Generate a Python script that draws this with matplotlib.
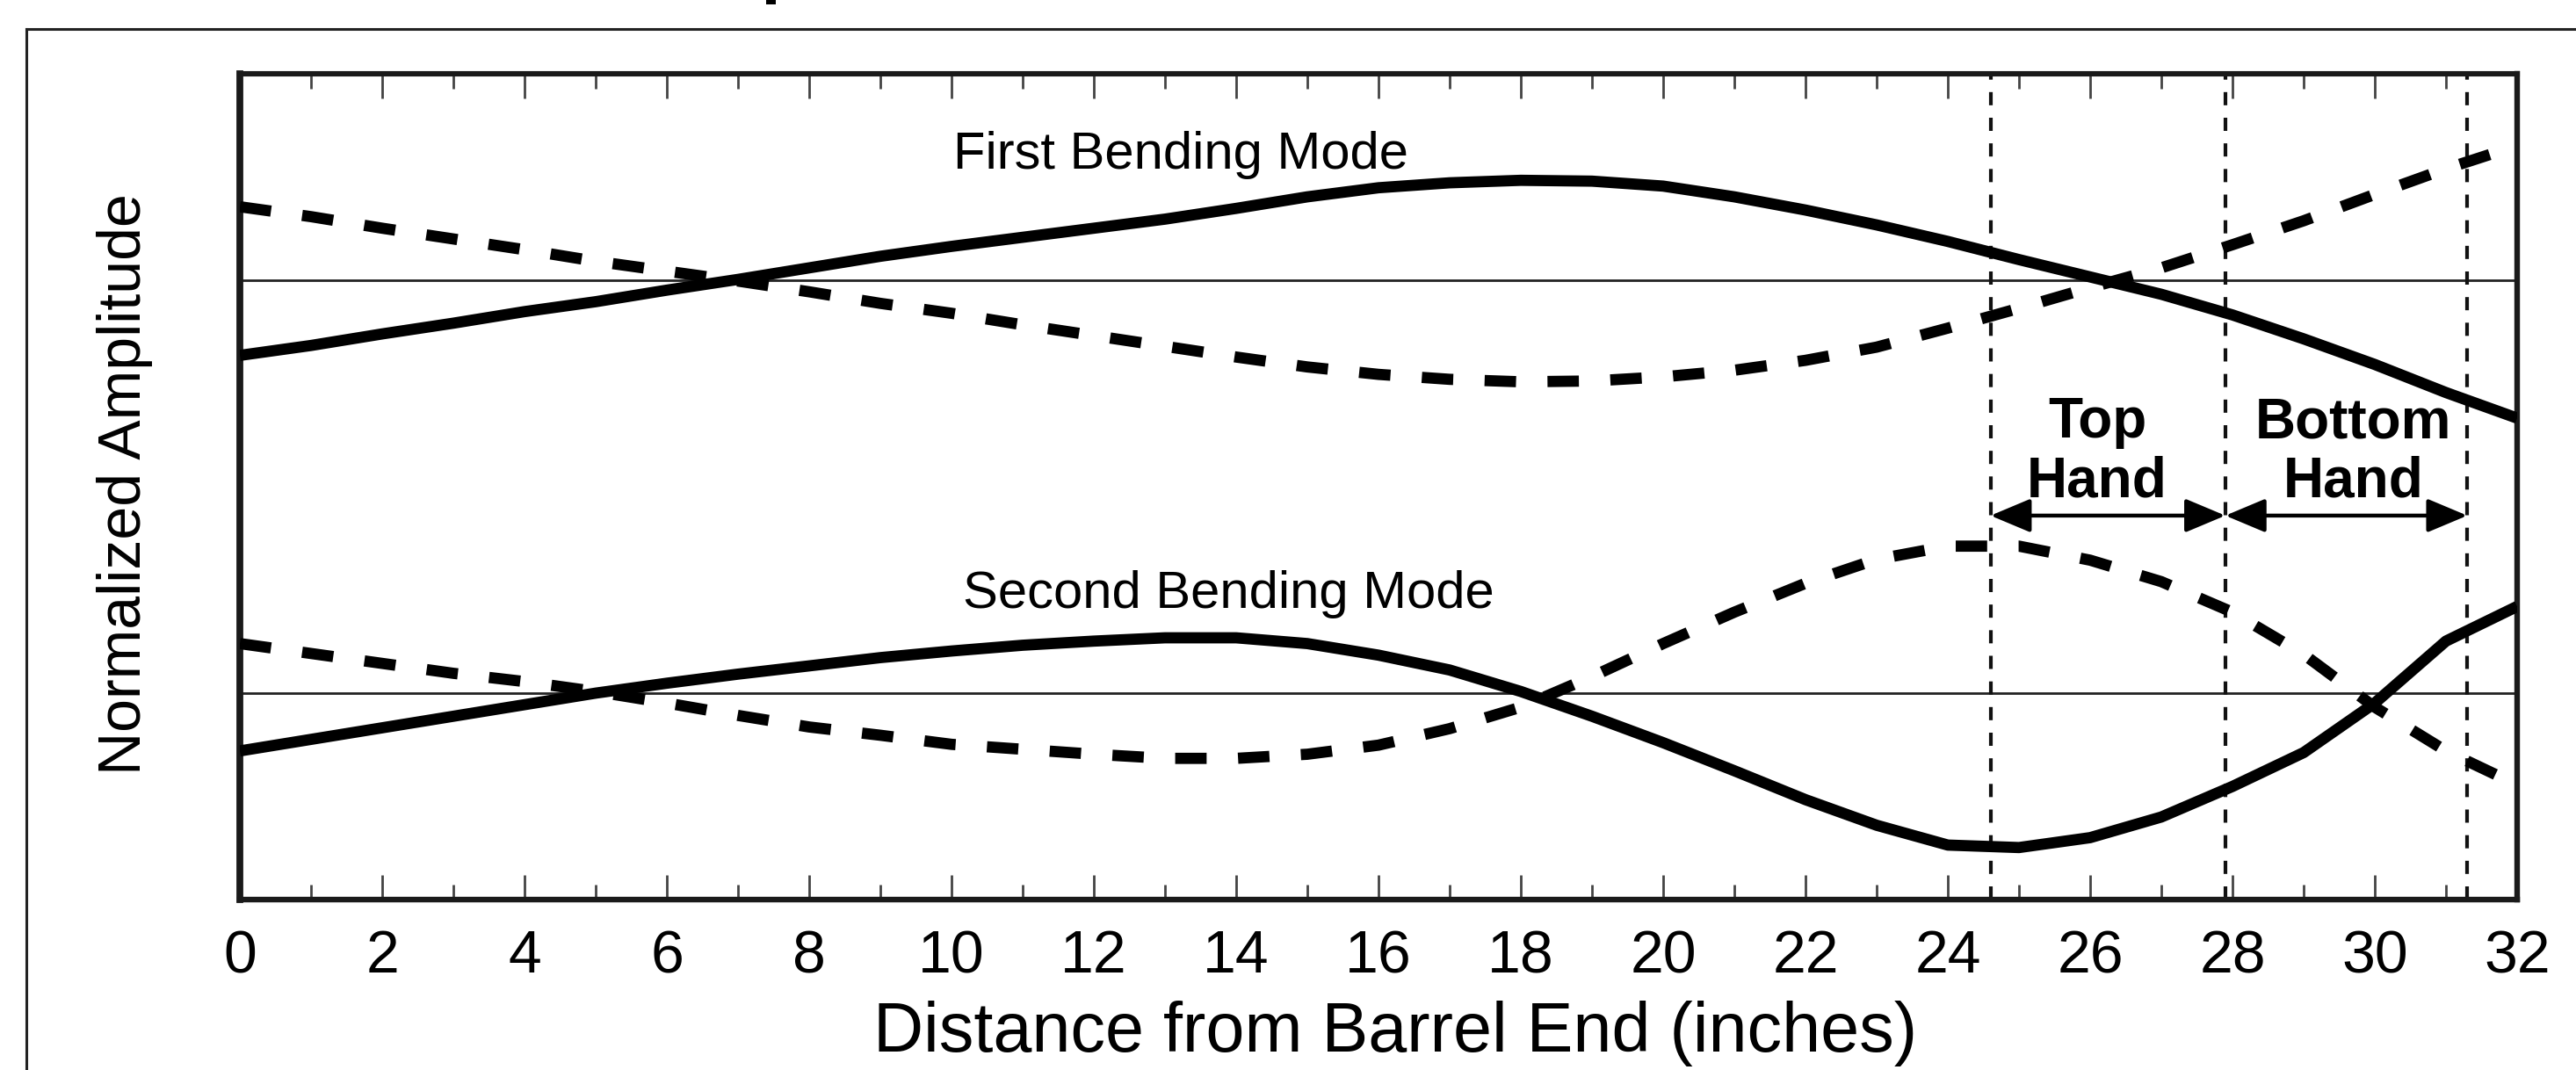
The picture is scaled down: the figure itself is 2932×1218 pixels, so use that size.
import matplotlib
matplotlib.use("Agg")
import matplotlib.pyplot as plt
from matplotlib.lines import Line2D
from matplotlib.patches import FancyArrowPatch, Rectangle
from matplotlib.ticker import MultipleLocator

plt.rcParams['font.family'] = ['Liberation Sans', 'DejaVu Sans']

# distance from barrel end (inches)
dist = list(range(0, 33))

# normalized amplitudes (relative to each mode's zero line)
first_solid = [-0.91, -0.79, -0.65, -0.52, -0.38, -0.26, -0.12, 0.01, 0.15, 0.29,
               0.41, 0.52, 0.63, 0.74, 0.87, 1.01, 1.12, 1.18, 1.21, 1.20,
               1.14, 1.01, 0.85, 0.67, 0.47, 0.25, 0.04, -0.17, -0.42, -0.71,
               -1.02, -1.36, -1.67]
first_dashed = [0.89, 0.77, 0.63, 0.50, 0.37, 0.23, 0.11, -0.01, -0.14, -0.28,
                -0.40, -0.54, -0.67, -0.80, -0.93, -1.05, -1.14, -1.20, -1.23, -1.22,
                -1.17, -1.09, -0.97, -0.81, -0.58, -0.34, -0.09, 0.15, 0.43, 0.72,
                1.04, 1.35, 1.63]
second_solid = [-0.70, -0.56, -0.42, -0.28, -0.14, 0.00, 0.12, 0.23, 0.33, 0.43,
                0.51, 0.58, 0.63, 0.67, 0.67, 0.60, 0.46, 0.28, 0.02, -0.28,
                -0.60, -0.94, -1.29, -1.60, -1.84, -1.87, -1.75, -1.50, -1.13, -0.72,
                -0.12, 0.63, 1.05]
second_dashed = [0.60, 0.48, 0.36, 0.24, 0.14, 0.02, -0.12, -0.27, -0.41, -0.51,
                 -0.62, -0.68, -0.74, -0.79, -0.79, -0.74, -0.63, -0.43, -0.17, 0.20,
                 0.60, 0.98, 1.33, 1.62, 1.78, 1.78, 1.61, 1.35, 0.98, 0.47,
                 -0.17, -0.70, -1.11]

# hand positions (inches)
hand_bounds = [24.6, 27.9, 31.3]
hand_labels = ["Top\nHand", "Bottom\nHand"]
hand_label_x = [26.1, 29.7]
mode_labels = ["First Bending Mode", "Second Bending Mode"]
xticks = list(range(0, 33, 2))

# zero level of each mode on the shared axis
zero_first = 7.5
zero_second = 2.5

W, H, DPI = 2932, 1218, 200
fig = plt.figure(figsize=(W / DPI, H / DPI), dpi=DPI)
ax = fig.add_axes([273 / W, 1 - 1024 / H, (2865 - 273) / W, (1024 - 84) / H])

lw = 4.6
dash = (2.8, 2.8)

ax.axhline(zero_first, color='#222222', lw=1.0, zorder=1)
ax.axhline(zero_second, color='#222222', lw=1.0, zorder=1)

ax.plot(dist, [zero_first + v for v in first_solid], color='black', lw=lw,
        solid_capstyle='butt', solid_joinstyle='round', zorder=3)
ax.plot(dist, [zero_first + v for v in first_dashed], color='black', lw=lw,
        linestyle=(0, dash), dash_capstyle='butt', zorder=3)
ax.plot(dist, [zero_second + v for v in second_solid], color='black', lw=lw,
        solid_capstyle='butt', solid_joinstyle='round', zorder=3)
ax.plot(dist, [zero_second + v for v in second_dashed], color='black', lw=lw,
        linestyle=(0, dash), dash_capstyle='butt', zorder=3)

for xb in hand_bounds:
    ax.axvline(xb, color='#111111', lw=1.5, linestyle=(0, (3.6, 3.4)), zorder=2)

# hand ranges
arrow_y = 4.65
for i in range(2):
    a = FancyArrowPatch((hand_bounds[i], arrow_y), (hand_bounds[i + 1], arrow_y),
                        arrowstyle='<|-|>,head_length=1.0,head_width=0.42',
                        mutation_scale=14, lw=1.6, color='black',
                        shrinkA=0, shrinkB=0, zorder=4)
    ax.add_patch(a)
    ax.text(hand_label_x[i], 4.88, hand_labels[i], ha='center', va='baseline',
            fontsize=23, fontweight='bold', linespacing=1.15, zorder=5)

ax.text(13.22, 8.85, mode_labels[0], ha='center', va='baseline', fontsize=21.5)
ax.text(13.89, 3.53, mode_labels[1], ha='center', va='baseline', fontsize=21.5)

ax.set_xlim(0, 32)
ax.set_ylim(0, 10)
ax.xaxis.set_major_locator(MultipleLocator(2))
ax.xaxis.set_minor_locator(MultipleLocator(1))
ax.set_xticks(xticks)
ax.set_xticklabels([str(t) for t in xticks])
ax.set_yticks([])
ax.tick_params(axis='x', which='both', direction='in', top=True, bottom=True,
               labeltop=False, color='#444444', width=1.0, labelsize=24.5, pad=12)
ax.tick_params(axis='x', which='major', length=10)
ax.tick_params(axis='x', which='minor', length=6)

for side, w in (('left', 2.8), ('right', 2.3), ('top', 2.2), ('bottom', 2.3)):
    ax.spines[side].set_linewidth(w)
    ax.spines[side].set_color('#1a1a1a')

ax.set_xlabel("Distance from Barrel End (inches)", fontsize=28.5, va='baseline')
ax.xaxis.set_label_coords(1588 / W, 1 - 1197 / H, transform=fig.transFigure)
ax.set_ylabel("Normalized Amplitude", fontsize=24.5, va='baseline')
ax.yaxis.set_label_coords(160 / W, 1 - 551 / H, transform=fig.transFigure)

# outer frame, cut off at right and bottom
fx, fy = 30 / W, 1 - 33 / H
fig.add_artist(Line2D([fx, fx], [0, fy], transform=fig.transFigure, color='#222222', lw=1.1))
fig.add_artist(Line2D([fx, 1], [fy, fy], transform=fig.transFigure, color='#222222', lw=1.1))
# remnant of cropped heading
fig.add_artist(Rectangle((872 / W, 1 - 5 / H), 11 / W, 5 / H, transform=fig.transFigure,
                         color='black', lw=0))

fig.savefig("out.png", dpi=DPI)
